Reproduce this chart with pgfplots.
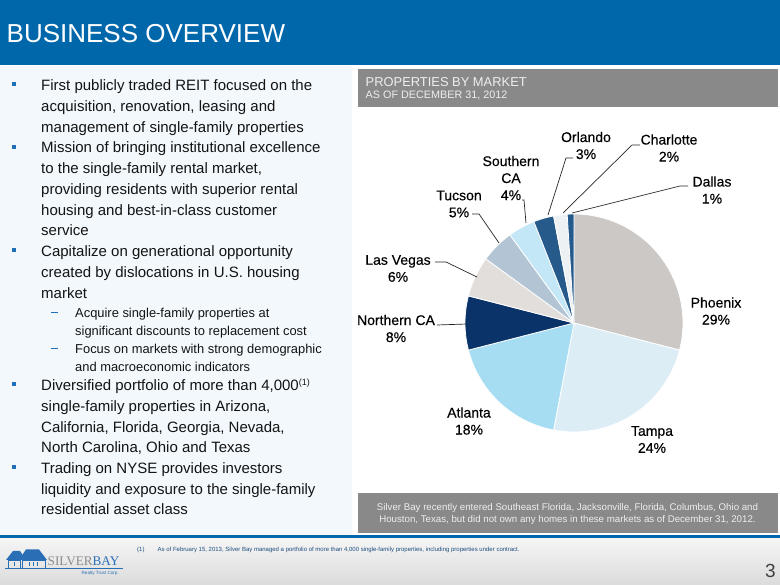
\documentclass[border=0pt]{standalone}
\usepackage{pgfplots}
\pgfplotsset{compat=1.18}
\usepackage{fontspec}
\setmainfont{Liberation Sans}
\newfontfamily\seriffont{Liberation Serif}
\newfontfamily\labelfont[FakeBold=0.3]{Liberation Sans}
\definecolor{hdrblue}{RGB}{0,103,171}
\definecolor{panelblue}{RGB}{242,248,252}
\definecolor{boxgray}{RGB}{137,137,137}
\definecolor{boxtxt}{RGB}{238,238,238}
\definecolor{bulblue}{RGB}{31,112,184}
\definecolor{txt}{RGB}{20,20,20}
\definecolor{logoblue}{RGB}{42,110,181}
\definecolor{logogray}{RGB}{140,140,140}
\definecolor{cPhx}{RGB}{204,200,197}
\definecolor{cTpa}{RGB}{220,237,246}
\definecolor{cAtl}{RGB}{166,221,243}
\definecolor{cNca}{RGB}{10,52,105}
\definecolor{cLv}{RGB}{226,222,219}
\definecolor{cTuc}{RGB}{179,196,212}
\definecolor{cSca}{RGB}{195,231,247}
\definecolor{cOrl}{RGB}{37,90,138}
\definecolor{cClt}{RGB}{237,241,244}
\definecolor{cDal}{RGB}{36,90,140}
\newcommand\fs[2]{\fontsize{#1bp}{#2bp}\selectfont}
\newcommand\Ln[3]{\node[anchor=base west,inner sep=0,font=\fs{15}{18},text=txt] at (#1,#2) {#3};}
\newcommand\Sn[3]{\node[anchor=base west,inner sep=0,font=\fs{12.9}{15},text=txt] at (#1,#2) {#3};}
\newcommand\Bul[1]{\fill[bulblue] (12.3,{#1-8.3}) rectangle (16.3,{#1-4.3});}
\newcommand\Dsh[1]{\draw[bulblue,line width=0.9bp] (51,{#1-4.6}) -- (58,{#1-4.6});}
\begin{document}
\begin{tikzpicture}
\path[use as bounding box] (0,0) rectangle (780bp,585bp);
\begin{scope}[x=1bp,y=-1bp,yshift=585bp]
  % backgrounds
  \fill[white] (0,0) rectangle (780,585);
  \fill[panelblue] (0,66) rectangle (352,535);
  \fill[hdrblue] (0,0) rectangle (780,65.5);
  \node[anchor=base west,inner sep=0,font=\fs{26}{30},text=white] at (6.5,43) {BUSINESS OVERVIEW};
  % top gray box
  \fill[boxgray] (357.5,69) rectangle (777.5,107);
  \node[anchor=base west,inner sep=0,font=\fs{12.9}{15},text=boxtxt] at (365.5,86.5) {PROPERTIES BY MARKET};
  \node[anchor=base west,inner sep=0,font=\fs{10.8}{13},text=boxtxt] at (365.5,99) {AS OF DECEMBER 31, 2012};
  % bottom gray box
  \fill[boxgray] (357.5,493) rectangle (777.5,533);
  \node[anchor=base,inner sep=0,font=\fs{9.7}{12},text=boxtxt] at (567.5,510.5) {Silver Bay recently entered Southeast Florida, Jacksonville, Florida, Columbus, Ohio and};
  \node[anchor=base,inner sep=0,font=\fs{9.7}{12},text=boxtxt] at (567.5,522.5) {Houston, Texas, but did not own any homes in these markets as of December 31, 2012.};
  % footer
  \fill[hdrblue] (0,535) rectangle (780,539);
  \shade[top color=black!4,bottom color=black!14] (0,539) rectangle (780,585);
  \node[anchor=base west,inner sep=0,font=\fs{6}{7},text=logoblue!70!black] at (137,552) {(1)};
  \node[anchor=base west,inner sep=0,font=\fs{6}{7},text=logoblue!70!black] at (157.5,552) {As of February 15, 2013, Silver Bay managed a portfolio of more than 4,000 single-family properties, including properties under contract.};
  \node[anchor=base east,inner sep=0,font=\fs{19}{20},text=black!75] at (776,578) {3};
  % logo
  \fill[logoblue] (6,560) -- (13,551) -- (20,551) -- (24,557) -- (24,560) -- cycle;
  \draw[logoblue,line width=0.8bp] (8,560) rectangle (20,568);
  \fill[logoblue] (19,560) -- (26,549.5) -- (39,549.5) -- (47,560) -- cycle;
  \draw[logoblue,line width=0.8bp] (22,560) rectangle (45,568);
  \draw[logoblue,line width=0.6bp] (14,562) -- (14,566) (29,562) -- (29,566) (33,562) -- (33,566) (37,562) -- (37,566);
  \draw[logoblue,line width=0.9bp] (5,568.5) -- (123,568.5);
  \node[anchor=base west,inner sep=0,font=\seriffont\fs{13.2}{14}] at (47.5,566) {\textcolor{logogray}{SILVER}\textcolor{logoblue}{BAY}};
  \node[anchor=base east,inner sep=0,font=\fs{4.6}{5},text=logoblue] at (119,575) {Realty Trust Corp.};
  % left text
  \Bul{90.7}
  \Ln{41}{90.7}{First publicly traded REIT focused on the}
  \Ln{41}{111.4}{acquisition, renovation, leasing and}
  \Ln{41}{132.2}{management of single-family properties}
  \Bul{152.9}
  \Ln{41}{152.9}{Mission of bringing institutional excellence}
  \Ln{41}{173.6}{to the single-family rental market,}
  \Ln{41}{194.4}{providing residents with superior rental}
  \Ln{41}{215.1}{housing and best-in-class customer}
  \Ln{41}{235.9}{service}
  \Bul{256.6}
  \Ln{41}{256.6}{Capitalize on generational opportunity}
  \Ln{41}{277.4}{created by dislocations in U.S. housing}
  \Ln{41}{298.1}{market}
  \Dsh{317.3}
  \Sn{75}{317.3}{Acquire single-family properties at}
  \Sn{75}{335.3}{significant discounts to replacement cost}
  \Dsh{353.3}
  \Sn{75}{353.3}{Focus on markets with strong demographic}
  \Sn{75}{371.2}{and macroeconomic indicators}
  \Bul{390.7}
  \Ln{41}{390.7}{Diversified portfolio of more than 4,000\raisebox{5bp}{\fs{9}{9}(1)}}
  \Ln{41}{411.4}{single-family properties in Arizona,}
  \Ln{41}{432.1}{California, Florida, Georgia, Nevada,}
  \Ln{41}{452.8}{North Carolina, Ohio and Texas}
  \Bul{473.4}
  \Ln{41}{473.4}{Trading on NYSE provides investors}
  \Ln{41}{494.1}{liquidity and exposure to the single-family}
  \Ln{41}{514.8}{residential asset class}
\end{scope}
\begin{axis}[at={(574bp,262bp)},anchor=center,x=1bp,y=1bp,
  xmin=-110,xmax=110,ymin=-110,ymax=110,scale only axis,hide axis,clip=false]
  % cumulative shares in percent: Phoenix 29, Tampa 24, Atlanta 18, Northern CA 8,
  % Las Vegas 6, Tucson 5, Southern CA 4, Orlando 3, Charlotte 2, Dallas 1
  \pgfplotsset{slice/.style={draw=white,line width=0.8bp,samples=60}}
  \addplot[slice,fill=cPhx,domain=0:29]  ({109*cos(90-3.6*x)},{109*sin(90-3.6*x)}) -- (0,0) -- cycle;
  \addplot[slice,fill=cTpa,domain=29:53] ({109*cos(90-3.6*x)},{109*sin(90-3.6*x)}) -- (0,0) -- cycle;
  \addplot[slice,fill=cAtl,domain=53:71] ({109*cos(90-3.6*x)},{109*sin(90-3.6*x)}) -- (0,0) -- cycle;
  \addplot[slice,fill=cNca,domain=71:79] ({109*cos(90-3.6*x)},{109*sin(90-3.6*x)}) -- (0,0) -- cycle;
  \addplot[slice,fill=cLv,domain=79:85]  ({109*cos(90-3.6*x)},{109*sin(90-3.6*x)}) -- (0,0) -- cycle;
  \addplot[slice,fill=cTuc,domain=85:90] ({109*cos(90-3.6*x)},{109*sin(90-3.6*x)}) -- (0,0) -- cycle;
  \addplot[slice,fill=cSca,domain=90:94] ({109*cos(90-3.6*x)},{109*sin(90-3.6*x)}) -- (0,0) -- cycle;
  \addplot[slice,fill=cOrl,domain=94:97] ({109*cos(90-3.6*x)},{109*sin(90-3.6*x)}) -- (0,0) -- cycle;
  \addplot[slice,fill=cClt,domain=97:99] ({109*cos(90-3.6*x)},{109*sin(90-3.6*x)}) -- (0,0) -- cycle;
  \addplot[slice,fill=cDal,domain=99:100] ({109*cos(90-3.6*x)},{109*sin(90-3.6*x)}) -- (0,0) -- cycle;
  % leader lines
  \draw[black!85,line width=0.7bp] (-1,165) -- (-8,165) -- (-26,108);
  \draw[black!85,line width=0.7bp] (66,178) -- (58,178) -- (-11,110);
  \draw[black!85,line width=0.7bp] (114,137) -- (106,137) -- (-2,110);
  \draw[black!85,line width=0.7bp] (-52,123) -- (-50,123) -- (-48,100);
  \draw[black!85,line width=0.7bp] (-102,109) -- (-95,109) -- (-75,80);
  \draw[black!85,line width=0.7bp] (-139,61) -- (-128,61) -- (-97,46);
  \draw[black!85,line width=0.7bp] (-137,-2) -- (-107,-1);
  % labels
  \begin{scope}[every node/.style={align=center,inner sep=0,font=\labelfont\fs{14}{17},text=black}]
  \node at (142,12) {Phoenix\\29\%};
  \node at (78,-116.5) {Tampa\\24\%};
  \node at (-105,-98) {Atlanta\\18\%};
  \node at (-178,-5.5) {Northern CA\\8\%};
  \node at (-176,54.5) {Las Vegas\\6\%};
  \node at (-115,119) {Tucson\\5\%};
  \node at (-63,145) {Southern\\CA\\4\%};
  \node at (12,177.5) {Orlando\\3\%};
  \node at (95,175) {Charlotte\\2\%};
  \node at (138,133) {Dallas\\1\%};
  \end{scope}
\end{axis}
\end{tikzpicture}
\end{document}
